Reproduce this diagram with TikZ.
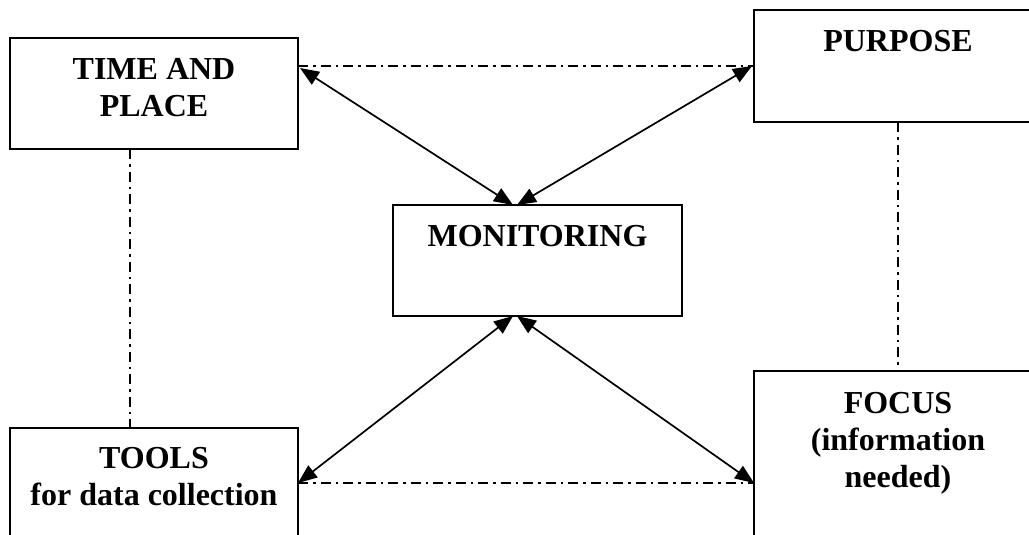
\documentclass[tikz,border=0pt]{standalone}
\usepackage{fontspec}
\setmainfont{Liberation Serif}
\usetikzlibrary{arrows.meta,calc}
\begin{document}
\begin{tikzpicture}[x=1pt,y=-1pt,
  box/.style={draw, line width=2pt, inner sep=0pt, outer sep=0pt, minimum width=288pt},
  txt/.style={font=\fontsize{32}{37}\selectfont\bfseries, align=center, inner sep=0pt, anchor=north},
  dd/.style={line width=1.3pt, dash pattern=on 10pt off 5pt on 2.5pt off 5pt},
  arr/.style={line width=1.7pt, {Triangle[length=19pt,width=15pt]}-{Triangle[length=19pt,width=15pt]}}]
\useasboundingbox (0,0) rectangle (1029,535);
\clip (0,0) rectangle (1029,535);
% boxes
\node[box, minimum height=111pt] (tp) at (154,93.5) {};
\node[box, minimum height=112pt] (pu) at (898,66) {};
\node[box, minimum height=111pt, minimum width=289pt] (mo) at (537.5,260.5) {};
\node[box, minimum height=140pt] (to) at (154,498) {};
\node[box, minimum height=200pt] (fo) at (898,471) {};
% texts
\node[txt] (tpt) at ([yshift=-20pt]tp.north) {TIME AND\\PLACE};
\node[txt] (put) at ([yshift=-20pt]pu.north) {PURPOSE};
\node[txt] (mot) at ([yshift=-20pt]mo.north) {MONITORING};
\node[txt] (tot) at ([yshift=-19pt]to.north) {TOOLS\\for data collection};
\node[txt] (fot) at ([yshift=-21pt]fo.north) {FOCUS\\(information\\needed)};
% dash-dot links
\draw[dd] ([yshift=-28pt]tp.north east) -- (pu.west);
\draw[dd] ([yshift=-55pt]to.north east) -- ([yshift=-112pt]fo.north west);
\draw[dd] ([xshift=120pt]tp.south west) -- ([xshift=120pt]to.north west);
\draw[dd] (pu.south) -- (fo.north);
% arrows
\draw[arr] ([yshift=-30pt,xshift=2pt]tp.north east) -- ([xshift=-24.5pt]mo.north);
\draw[arr] ([xshift=-2pt]pu.west) -- ([xshift=-20.5pt]mo.north);
\draw[arr] ([xshift=-24.5pt]mo.south) -- ([yshift=-55pt]to.north east);
\draw[arr] ([xshift=-20.5pt]mo.south) -- ([yshift=-112pt]fo.north west);
\end{tikzpicture}
\end{document}
